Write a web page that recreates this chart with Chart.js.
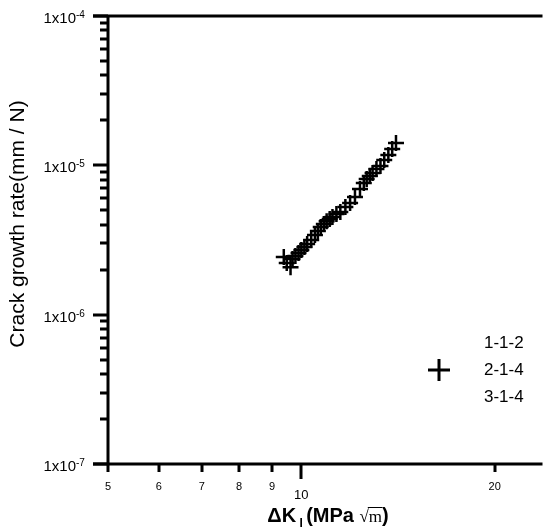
<!DOCTYPE html>
<html>
<head>
<meta charset="utf-8">
<script src="https://cdn.jsdelivr.net/npm/chart.js@4.4.0/dist/chart.umd.min.js"></script>
<style>
  body { margin: 0; background: #fff; }
  canvas { display: block; }
</style>
</head>
<body>
<canvas id="grafico" width="553" height="532"></canvas>
<script>
// dados (serie 2-1-4)
let deltaK = [9.39, 9.49, 9.62, 9.69, 9.79, 9.90, 10.0, 10.11, 10.21, 10.36, 10.50,
  10.61, 10.72, 10.84, 10.95, 11.07, 11.18, 11.34, 11.50, 11.71, 11.91, 12.12,
  12.34, 12.51, 12.64, 12.78, 12.91, 13.09, 13.28, 13.46, 13.66, 13.85, 14.04];
let taxa = [2.43e-6, 2.22e-6, 2.08e-6, 2.36e-6, 2.47e-6, 2.59e-6, 2.71e-6, 2.84e-6,
  2.97e-6, 3.16e-6, 3.41e-6, 3.63e-6, 3.86e-6, 4.04e-6, 4.23e-6, 4.37e-6, 4.50e-6,
  4.72e-6, 4.87e-6, 5.26e-6, 5.59e-6, 6.13e-6, 6.94e-6, 7.61e-6, 8.09e-6, 8.48e-6,
  8.88e-6, 9.45e-6, 9.89e-6, 1.085e-5, 1.172e-5, 1.285e-5, 1.41e-5];
let series = ["1-1-2", "2-1-4", "3-1-4"];
let xTicks = [5, 6, 7, 8, 9, 10, 20];
let yDecades = [1e-7, 1e-6, 1e-5, 1e-4];
let yExpoentes = ["-7", "-6", "-5", "-4"];

const fonte = "'Liberation Sans', Arial, sans-serif";
Chart.defaults.font.family = fonte;

const eixos = {
  id: "eixos",
  afterDraw(chart) {
    const ctx = chart.ctx;
    const a = chart.chartArea;
    const sx = chart.scales.x;
    const sy = chart.scales.y;
    ctx.save();
    ctx.strokeStyle = "#000";
    ctx.fillStyle = "#000";
    ctx.lineWidth = 3;

    // linhas dos eixos
    ctx.beginPath();
    ctx.moveTo(a.left, a.top);
    ctx.lineTo(a.left, a.bottom);
    ctx.moveTo(a.left - 15, a.top);
    ctx.lineTo(a.right, a.top);
    ctx.moveTo(a.left - 15, a.bottom);
    ctx.lineTo(a.right, a.bottom);
    ctx.stroke();

    // ticks do eixo y
    ctx.beginPath();
    yDecades.forEach(d => {
      for (let k = 1; k <= 9; k++) {
        let v = k * d;
        if (v > 1.0001e-4) continue;
        let py = Math.round(sy.getPixelForValue(v));
        let len = k === 1 ? 15 : 8;
        ctx.moveTo(a.left - len, py);
        ctx.lineTo(a.left, py);
      }
    });
    // ticks do eixo x
    xTicks.forEach(t => {
      let px = Math.round(sx.getPixelForValue(t));
      let len = t === 10 ? 15 : 8;
      ctx.moveTo(px, a.bottom);
      ctx.lineTo(px, a.bottom + len);
    });
    ctx.stroke();

    // rotulos y
    yDecades.forEach((d, i) => {
      let py = sy.getPixelForValue(d);
      ctx.font = "15px " + fonte;
      ctx.textAlign = "right";
      ctx.textBaseline = "alphabetic";
      ctx.fillText("1x10", 76, py + 7);
      ctx.font = "10px " + fonte;
      ctx.textAlign = "left";
      ctx.fillText(yExpoentes[i], 76, py + 2);
    });

    // rotulos x
    ctx.textAlign = "center";
    xTicks.forEach(t => {
      let px = sx.getPixelForValue(t);
      if (t === 10) {
        ctx.font = "13px " + fonte;
        ctx.fillText(String(t), px, a.bottom + 35);
      } else {
        ctx.font = "11px " + fonte;
        ctx.fillText(String(t), px, a.bottom + 26);
      }
    });

    // titulo y
    ctx.save();
    ctx.translate(24, 224);
    ctx.rotate(-Math.PI / 2);
    ctx.font = "21px " + fonte;
    ctx.textAlign = "center";
    ctx.fillText("Crack growth rate(mm / N)", 0, 0);
    ctx.restore();

    // titulo x
    ctx.textAlign = "left";
    let partes = [
      { t: "\u0394K", f: "bold 20px " + fonte, dy: 0 },
      { t: " I ", f: "bold 12px " + fonte, dy: 5 },
      { t: "(MPa ", f: "bold 20px " + fonte, dy: 0 },
      { t: "\u221Am", f: "17px 'Liberation Serif', 'DejaVu Serif', serif", dy: 0, raiz: true },
      { t: ")", f: "bold 20px " + fonte, dy: 0 }
    ];
    let total = 0;
    partes.forEach(p => { ctx.font = p.f; p.w = ctx.measureText(p.t).width; total += p.w; });
    let cx = 328 - total / 2;
    let base = 522;
    partes.forEach(p => {
      ctx.font = p.f;
      ctx.fillText(p.t, cx, base + p.dy);
      if (p.raiz) {
        let wr = ctx.measureText("\u221A").width;
        ctx.lineWidth = 1;
        ctx.beginPath();
        ctx.moveTo(cx + wr - 1, base - 14.5);
        ctx.lineTo(cx + p.w, base - 14.5);
        ctx.stroke();
      }
      cx += p.w;
    });

    // legenda
    ctx.font = "17px " + fonte;
    ctx.textBaseline = "middle";
    series.forEach((s, i) => {
      ctx.fillText(s, 484, 343 + i * 27);
    });
    ctx.lineWidth = 3;
    ctx.beginPath();
    ctx.moveTo(428, 370);
    ctx.lineTo(450, 370);
    ctx.moveTo(439, 359);
    ctx.lineTo(439, 381);
    ctx.stroke();

    ctx.restore();
  }
};

new Chart(document.getElementById("grafico"), {
  type: "scatter",
  data: {
    datasets: series.map(nome => ({
      label: nome,
      data: nome === "2-1-4" ? deltaK.map((k, i) => ({ x: k, y: taxa[i] })) : [],
      pointStyle: "cross",
      pointRadius: 8,
      borderColor: "#000",
      backgroundColor: "#000",
      borderWidth: 2.5
    }))
  },
  options: {
    responsive: false,
    animation: false,
    layout: { padding: { left: 108, top: 16, right: 0, bottom: 68 } },
    plugins: { legend: { display: false }, tooltip: { enabled: false } },
    scales: {
      x: { type: "logarithmic", min: 5, max: 23.74, display: false },
      y: { type: "logarithmic", min: 1e-7, max: 1e-4, display: false }
    }
  },
  plugins: [eixos]
});
</script>
</body>
</html>
